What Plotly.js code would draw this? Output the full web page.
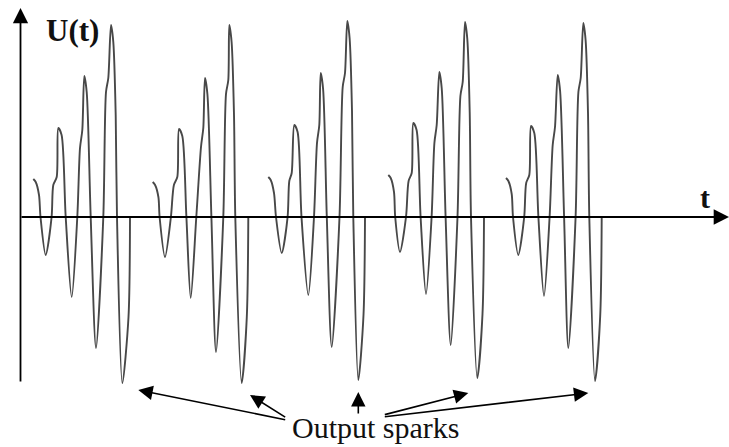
<!DOCTYPE html>
<html>
<head>
<meta charset="utf-8">
<script src="https://cdn.plot.ly/plotly-3.0.1.min.js"></script>
<style>html,body{margin:0;padding:0;background:#fff;}#chart{width:729px;height:447px;}</style>
</head>
<body>
<div id="chart"></div>
<script>
// Five output bursts of U(t) (t and U in arbitrary units)
const burst1T = [33.3, 35.7, 39, 40.5, 45.7, 51.6, 53.3, 56.7, 58.3, 61.6, 65.7, 71.7, 77.3, 80, 82.3, 84.3, 86.7, 90.7, 96, 103.3, 106, 108.3, 111, 113.3, 115.7, 117, 122.3, 128.5, 130];
const burst1U = [38, 35, 22, 0, -38, 0, 32, 40, 89, 82, 0, -80, 0, 69, 87, 141, 125, 0, -131, 0, 125, 139, 192, 175, 102, 0, -166, -100, 0];

const burst2T = [152.7, 155.1, 158.4, 159.6, 165, 170.9, 173.9, 177.3, 179, 182.3, 186.4, 190.7, 196.3, 201, 203.3, 205, 207.4, 211.4, 216, 223.3, 226, 228.3, 229.3, 231.6, 234, 235.3, 241.7, 246.8, 248.3];
const burst2U = [35, 32, 20, 0, -40, 0, 32, 40, 88, 81, 0, -81, 0, 70, 89, 139, 123, 0, -135, 0, 123, 137, 192, 175, 102, 0, -166, -100, 0];

const burst3T = [268.3, 270.7, 274, 276, 281.7, 287.6, 289.3, 291.7, 294.3, 297.6, 301.5, 308.3, 314, 317, 319.3, 320.7, 323.1, 326.8, 331.7, 339.5, 342.7, 345, 347.3, 349.6, 352, 353.3, 358.3, 363.5, 365];
const burst3U = [40, 37, 24, 0, -36, 0, 36, 44, 92, 85, 0, -78, 0, 74, 92, 144, 128, 0, -130, 0, 130, 144, 196, 179, 106, 0, -163, -98, 0];

const burst4T = [388.3, 390.7, 394, 395.2, 400, 406, 408.6, 411.7, 413.3, 416.6, 420.6, 426, 431.6, 434.4, 436.7, 439.3, 441.7, 445.6, 450.7, 457.5, 460.4, 462.7, 465, 467.3, 469.7, 471, 477.3, 482.5, 484];
const burst4U = [42, 39, 25, 0, -35, 0, 36, 44, 94, 87, 0, -77, 0, 74, 92, 145, 129, 0, -128, 0, 121, 135, 195, 178, 105, 0, -161, -97, 0];

const burst5T = [506, 508.4, 511.7, 513, 518.3, 524.2, 526.2, 529.3, 531, 534.3, 538.4, 544, 549.6, 552.7, 555, 557.7, 560.1, 564.1, 568.3, 575.6, 578.4, 580.7, 583.3, 585.6, 588, 589.3, 595, 600.2, 601.7];
const burst5U = [39, 36, 23, 0, -38, 0, 34, 42, 91, 84, 0, -79, 0, 72, 90, 142, 126, 0, -131, 0, 125, 139, 194, 177, 104, 0, -164, -99, 0];

const yLabel = 'U(t)';
const xLabel = 't';
const noteLabel = 'Output sparks';

const bursts = [[burst1T, burst1U], [burst2T, burst2U], [burst3T, burst3U], [burst4T, burst4U], [burst5T, burst5U]];

const traces = bursts.map(([t, u]) => ({
  x: t, y: u, type: 'scatter', mode: 'lines',
  line: {color: '#484848', width: 1.9, shape: 'spline', smoothing: 0.8},
  hoverinfo: 'skip', showlegend: false
}));

function arrow(x, y, ax, ay, w, s) {
  return {x: x, y: y, ax: ax, ay: ay, xref: 'x', yref: 'y', axref: 'x', ayref: 'y',
    text: '', showarrow: true, arrowhead: 2, arrowsize: s, arrowwidth: w, arrowcolor: '#000', standoff: 0, startstandoff: 0};
}

const annotations = [
  arrow(729, 0, 20, 0, 1.8, 1.7),
  arrow(20.5, 209, 20.5, -166, 1.8, 1.7),
  arrow(138.3, -173, 286.7, -203, 1.6, 1.8),
  arrow(250, -178, 286.7, -201, 1.6, 1.8),
  arrow(358.3, -175, 358.3, -198, 1.6, 1.8),
  arrow(468.3, -176, 383.3, -198, 1.6, 1.8),
  arrow(588.3, -176, 383.3, -200, 1.6, 1.8),
  {x: 72, y: 187, xref: 'x', yref: 'y', text: '<b>' + yLabel + '</b>', showarrow: false,
   font: {family: 'Liberation Serif', size: 31, color: '#111'}, xanchor: 'center', yanchor: 'middle'},
  {x: 705, y: 20, xref: 'x', yref: 'y', text: '<b>' + xLabel + '</b>', showarrow: false,
   font: {family: 'Liberation Serif', size: 30, color: '#111'}, xanchor: 'center', yanchor: 'middle'},
  {x: 376, y: -210, xref: 'x', yref: 'y', text: noteLabel, showarrow: false,
   font: {family: 'Liberation Serif', size: 30, color: '#111'}, xanchor: 'center', yanchor: 'middle'}
];

const layout = {
  width: 729, height: 447,
  margin: {l: 0, r: 0, t: 0, b: 0},
  paper_bgcolor: '#fff', plot_bgcolor: '#fff',
  xaxis: {range: [0, 729], visible: false, fixedrange: true},
  yaxis: {range: [-230, 217], visible: false, fixedrange: true},
  annotations: annotations,
  showlegend: false
};

Plotly.newPlot('chart', traces, layout, {staticPlot: true, displayModeBar: false});
</script>
</body>
</html>
